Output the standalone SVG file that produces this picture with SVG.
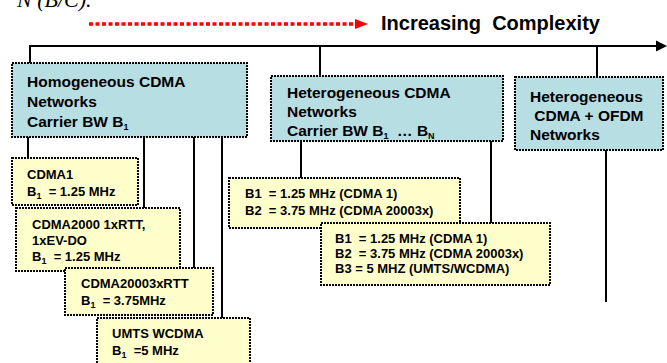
<svg xmlns="http://www.w3.org/2000/svg" width="667" height="363" viewBox="0 0 667 363">
<style>
  .t { font-family: "Liberation Sans", Arial, sans-serif; font-weight: bold; fill: #000; }
  .big { font-size: 15.5px; }
  .sm { font-size: 13px; }
  .sub { font-size: 9px; }
  .teal { fill: #B7DEE3; stroke: #000; stroke-width: 2; stroke-dasharray: 2 1; }
  .yel { fill: #FFFFCC; stroke: #000; stroke-width: 2; stroke-dasharray: 2 1; }
  .c { stroke: #000; stroke-width: 2; fill: none; }
</style>
<rect width="667" height="363" fill="#fff"/>
<text x="17" y="7" font-family="Liberation Serif, serif" font-style="italic" font-size="22">N  (B/C).</text>
<g id="complexity">
  <line x1="89" y1="24" x2="357" y2="24" stroke="#FF0000" stroke-width="3.5" stroke-dasharray="4 2.5"/>
  <polygon points="355,19 368,24 355,29" fill="#FF0000"/>
  <text class="t" x="381" y="30" font-size="20" xml:space="preserve">Increasing  Complexity</text>
</g>
<g id="connectors">
  <line class="c" x1="29" y1="46" x2="658" y2="46" stroke-width="3"/>
  <polygon points="656,40.5 667,46 656,51.5" fill="#000"/>
  <line class="c" x1="30" y1="46" x2="30" y2="63"/>
  <line class="c" x1="320" y1="46" x2="320" y2="76"/>
  <line class="c" x1="597" y1="46" x2="597" y2="77"/>
  <line class="c" x1="28" y1="137" x2="28" y2="158"/>
  <line class="c" x1="144" y1="137" x2="144" y2="208"/>
  <line class="c" x1="194" y1="137" x2="194" y2="268"/>
  <line class="c" x1="222" y1="137" x2="222" y2="318"/>
  <line class="c" x1="301" y1="141" x2="301" y2="178"/>
  <line class="c" x1="491" y1="141" x2="491" y2="223"/>
  <line class="c" x1="606" y1="150" x2="606" y2="302"/>
</g>
<g id="homogeneous">
  <rect class="teal" x="12" y="63" width="235" height="74"/>
  <text class="t big" x="27" y="87">Homogeneous CDMA</text>
  <text class="t big" x="27" y="107">Networks</text>
  <text class="t big" x="27" y="127">Carrier BW B<tspan class="sub" dy="3">1</tspan></text>
</g>
<g id="heterogeneous-cdma">
  <rect class="teal" x="271" y="76" width="232" height="65"/>
  <text class="t big" x="287" y="98">Heterogeneous CDMA</text>
  <text class="t big" x="287" y="117">Networks</text>
  <text class="t big" x="287" y="136" xml:space="preserve">Carrier BW B<tspan class="sub" dy="3">1</tspan><tspan dy="-3">  … B</tspan><tspan class="sub" dy="3">N</tspan></text>
</g>
<g id="heterogeneous-ofdm">
  <rect class="teal" x="515" y="77" width="148" height="73"/>
  <text class="t big" x="530" y="102">Heterogeneous</text>
  <text class="t big" x="530" y="121" xml:space="preserve"> CDMA + OFDM</text>
  <text class="t big" x="530" y="140">Networks</text>
</g>
<g id="cdma1">
  <rect class="yel" x="12" y="158" width="126" height="47"/>
  <text class="t sm" x="27" y="179">CDMA1</text>
  <text class="t sm" x="27" y="196" xml:space="preserve">B<tspan class="sub" dy="3">1</tspan><tspan dy="-3">  = 1.25 MHz</tspan></text>
</g>
<g id="cdma2000">
  <rect class="yel" x="16" y="208" width="164" height="63"/>
  <text class="t sm" x="32" y="229">CDMA2000 1xRTT,</text>
  <text class="t sm" x="32" y="245">1xEV-DO</text>
  <text class="t sm" x="32" y="261" xml:space="preserve">B<tspan class="sub" dy="3">1</tspan><tspan dy="-3">  = 1.25 MHz</tspan></text>
</g>
<g id="cdma20003x">
  <rect class="yel" x="65" y="268" width="148" height="47"/>
  <text class="t sm" x="81" y="288">CDMA20003xRTT</text>
  <text class="t sm" x="81" y="305" xml:space="preserve">B<tspan class="sub" dy="3">1</tspan><tspan dy="-3">  = 3.75MHz</tspan></text>
</g>
<g id="umts">
  <rect class="yel" x="97" y="318" width="153" height="60"/>
  <text class="t sm" x="112" y="338">UMTS WCDMA</text>
  <text class="t sm" x="112" y="355" xml:space="preserve">B<tspan class="sub" dy="3">1</tspan><tspan dy="-3">  =5 MHz</tspan></text>
</g>
<g id="b1b2">
  <rect class="yel" x="229" y="178" width="231" height="50"/>
  <text class="t sm" x="245" y="198" xml:space="preserve">B1  = 1.25 MHz (CDMA 1)</text>
  <text class="t sm" x="245" y="215" xml:space="preserve">B2  = 3.75 MHz (CDMA 20003x)</text>
</g>
<g id="b1b2b3">
  <rect class="yel" x="321" y="223" width="229" height="62"/>
  <text class="t sm" x="335" y="243" xml:space="preserve">B1  = 1.25 MHz (CDMA 1)</text>
  <text class="t sm" x="335" y="258" xml:space="preserve">B2  = 3.75 MHz (CDMA 20003x)</text>
  <text class="t sm" x="335" y="273">B3 = 5 MHZ (UMTS/WCDMA)</text>
</g>
</svg>
